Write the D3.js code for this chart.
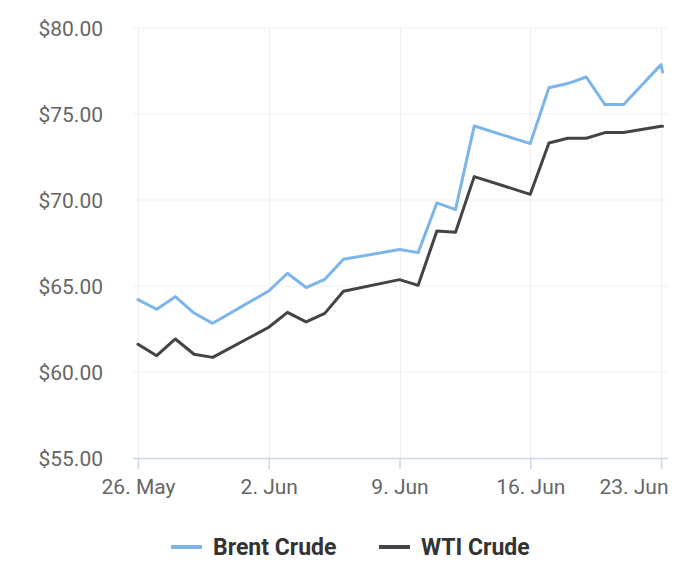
<!DOCTYPE html>
<html>
<head>
<meta charset="utf-8">
<script src="https://cdn.jsdelivr.net/npm/d3@7"></script>
<style>
  html, body { margin: 0; padding: 0; background: #fff; }
  svg { display: block; font-family: Roboto, "Noto Sans", sans-serif; }
</style>
</head>
<body>
<svg id="chart" width="700" height="570"></svg>
<script>
// ---- data ----
const dates = [
  "2025-05-26","2025-05-27","2025-05-28","2025-05-29","2025-05-30",
  "2025-06-02","2025-06-03","2025-06-04","2025-06-05","2025-06-06",
  "2025-06-09","2025-06-10","2025-06-11","2025-06-12","2025-06-13",
  "2025-06-16","2025-06-17","2025-06-18","2025-06-19","2025-06-20",
  "2025-06-21","2025-06-23T00:00","2025-06-23T02:00"
];
const brent = [64.21,63.65,64.38,63.43,62.83,
  64.71,65.74,64.91,65.39,66.55,
  67.12,66.94,69.83,69.44,74.30,
  73.28,76.53,76.77,77.15,75.55,
  75.55,77.87,77.44];
const wti = [61.61,60.95,61.92,61.03,60.85,
  62.60,63.47,62.91,63.41,64.69,
  65.37,65.04,68.20,68.12,71.36,
  70.33,73.31,73.59,73.59,73.92,
  73.92,74.29,74.29];
const seriesNames = ["Brent Crude","WTI Crude"];
const seriesColors = ["#7cb5ec","#434348"];
const yTicks = [55,60,65,70,75,80];
const xTickDates = ["2025-05-26","2025-06-02","2025-06-09","2025-06-16","2025-06-23"];

// ---- layout ----
const svg = d3.select("#chart");
const parse = s => new Date(s.length > 10 ? s : s + "T00:00");
const plotL = 133, plotR = 668, plotT = 28, plotB = 458;

const x = d3.scaleTime()
  .domain([parse("2025-05-26"), parse("2025-06-23")])
  .range([138, 661]);
const y = d3.scaleLinear().domain([55, 80]).range([plotB, plotT]);

// horizontal grid
svg.append("g").selectAll("line").data(yTicks.filter(v => v !== 55)).join("line")
  .attr("x1", plotL).attr("x2", plotR)
  .attr("y1", d => y(d)).attr("y2", d => y(d))
  .attr("stroke", "#f0f0f0").attr("stroke-width", 1);

// vertical grid
svg.append("g").selectAll("line").data(xTickDates).join("line")
  .attr("x1", d => Math.round(x(parse(d))) + 0.5).attr("x2", d => Math.round(x(parse(d))) + 0.5)
  .attr("y1", plotT).attr("y2", plotB)
  .attr("stroke", "#f0f0f0").attr("stroke-width", 1);

// y labels
svg.append("g").selectAll("text").data(yTicks).join("text")
  .attr("x", 103).attr("y", d => y(d)).attr("dy", "0.38em")
  .attr("text-anchor", "end")
  .attr("font-size", 21).attr("fill", "#666666")
  .text(d => "$" + d3.format(".2f")(d));

// x axis using d3.axisBottom
const xAxis = d3.axisBottom(x)
  .tickValues(xTickDates.map(parse))
  .tickSize(11)
  .tickPadding(10)
  .tickFormat(d => d3.timeFormat("%-d. %b")(d));
const gx = svg.append("g").attr("transform", `translate(0,${plotB})`).call(xAxis);
gx.select(".domain").remove();
gx.selectAll(".tick line").attr("stroke", "#ccd6eb").attr("stroke-width", 1.5);
gx.selectAll(".tick text").attr("font-size", 21).attr("fill", "#666666")
  .attr("font-family", "Roboto, sans-serif");
// keep the last label inside the plot edge
const lastTick = gx.selectAll(".tick").filter((d, i, n) => i === n.length - 1);
lastTick.select("text").attr("text-anchor", "end").attr("x", plotR - x(parse(xTickDates[xTickDates.length - 1])));
svg.append("line").attr("x1", plotL).attr("x2", plotR)
  .attr("y1", plotB + 0.5).attr("y2", plotB + 0.5)
  .attr("stroke", "#ccd6eb").attr("stroke-width", 1.5);

// lines
const line = d3.line().x((d, i) => x(parse(dates[i]))).y(d => y(d));
[brent, wti].forEach((vals, k) => {
  svg.append("path").datum(vals)
    .attr("d", line)
    .attr("fill", "none")
    .attr("stroke", seriesColors[k])
    .attr("stroke-width", 3)
    .attr("stroke-linejoin", "round")
    .attr("stroke-linecap", "round");
});

// legend
const legendItems = [
  {name: seriesNames[0], color: seriesColors[0], x: 171},
  {name: seriesNames[1], color: seriesColors[1], x: 379}
];
const lg = svg.append("g");
legendItems.forEach(it => {
  lg.append("line").attr("x1", it.x).attr("x2", it.x + 31)
    .attr("y1", 547).attr("y2", 547)
    .attr("stroke", it.color).attr("stroke-width", 4);
  lg.append("text").attr("x", it.x + 42).attr("y", 547).attr("dy", "0.36em")
    .attr("font-size", 23).attr("font-weight", "bold").attr("fill", "#333333")
    .text(it.name);
});
</script>
</body>
</html>
